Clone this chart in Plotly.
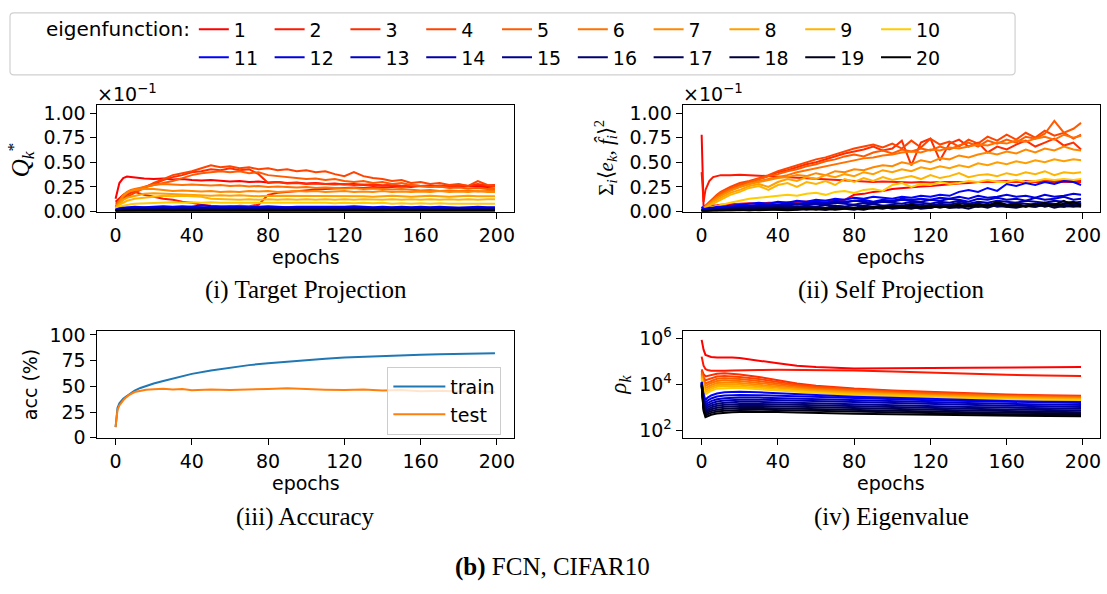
import plotly.graph_objects as go

W, H = 1107, 594

# ---------------------------------------------------------------- data
# epochs at which the projection curves were logged
EPOCHS = [0, 1, 2, 4, 6, 8, 10, 15, 20, 25, 30, 35, 40, 45, 50, 55, 60, 65, 70, 75,
          80, 85, 90, 95, 100, 105, 110, 115, 120, 125, 130, 135, 140, 145, 150, 155,
          160, 165, 170, 175, 180, 185, 190, 195, 199]
# epochs at which the eigenvalues were logged
EIG_EPOCHS = [0, 1, 2, 3, 5, 8, 12, 16, 20, 30, 40, 50, 60, 80, 100, 120, 140, 160, 180, 199]
# epochs at which accuracy was logged
ACC_EPOCHS = [0, 1, 2, 3, 4, 5, 7, 10, 13, 16, 20, 25, 30, 35, 40, 50, 60, 70, 80, 90,
              100, 110, 120, 130, 140, 150, 160, 170, 180, 190, 199]

EIGEN_LABELS = [str(k) for k in range(1, 21)]

# (i) target projection Q*_k, in units of 1e-1
target_1 = [0.13, 0.22, 0.29, 0.34, 0.355, 0.35,
            0.345, 0.335, 0.33, 0.335, 0.325, 0.33, 0.32, 0.315, 0.32, 0.31,
            0.305, 0.31, 0.30, 0.305, 0.295, 0.30, 0.29, 0.295, 0.285, 0.29,
            0.28, 0.285, 0.275, 0.28, 0.27, 0.275, 0.265, 0.27, 0.26, 0.265,
            0.26, 0.265, 0.255, 0.26, 0.25, 0.26, 0.255, 0.25, 0.255]
target_2 = [0.10, 0.12, 0.14, 0.17, 0.19, 0.20,
            0.20, 0.17, 0.15, 0.13, 0.12, 0.10, 0.09, 0.07, 0.06, 0.055,
            0.05, 0.06, 0.055, 0.07, 0.17, 0.19, 0.20, 0.21, 0.22, 0.225,
            0.23, 0.235, 0.24, 0.245, 0.24, 0.25, 0.245, 0.25, 0.255, 0.25,
            0.26, 0.255, 0.26, 0.25, 0.265, 0.26, 0.27, 0.26, 0.265]
target_3 = [0.08, 0.09, 0.11, 0.14, 0.17, 0.19,
            0.21, 0.25, 0.28, 0.32, 0.35, 0.37, 0.40, 0.41, 0.43, 0.42,
            0.44, 0.42, 0.43, 0.38, 0.29, 0.30, 0.285, 0.29, 0.28, 0.285,
            0.28, 0.275, 0.28, 0.27, 0.275, 0.27, 0.265, 0.27, 0.26, 0.265,
            0.26, 0.255, 0.265, 0.26, 0.27, 0.26, 0.28, 0.265, 0.27]
target_4 = [0.06, 0.07, 0.09, 0.12, 0.15, 0.17,
            0.19, 0.24, 0.29, 0.33, 0.37, 0.39, 0.41, 0.44, 0.47, 0.45,
            0.46, 0.44, 0.45, 0.43, 0.44, 0.42, 0.43, 0.41, 0.42, 0.40,
            0.41, 0.38, 0.36, 0.40, 0.36, 0.34, 0.33, 0.31, 0.32, 0.29,
            0.30, 0.28, 0.29, 0.27, 0.28, 0.26, 0.31, 0.27, 0.26]
target_5 = [0.05, 0.07, 0.10, 0.15, 0.19, 0.21,
            0.22, 0.25, 0.27, 0.29, 0.31, 0.34, 0.37, 0.39, 0.40, 0.41,
            0.40, 0.41, 0.39, 0.40, 0.37, 0.36, 0.35, 0.34, 0.33, 0.335,
            0.32, 0.33, 0.31, 0.30, 0.31, 0.29, 0.30, 0.28, 0.29, 0.27,
            0.26, 0.25, 0.255, 0.24, 0.245, 0.235, 0.24, 0.23, 0.23]
target_6 = [0.05, 0.08, 0.12, 0.17, 0.20, 0.22,
            0.23, 0.25, 0.27, 0.28, 0.275, 0.27, 0.275, 0.27, 0.265, 0.27,
            0.26, 0.265, 0.255, 0.26, 0.25, 0.255, 0.25, 0.245, 0.25, 0.24,
            0.245, 0.24, 0.235, 0.24, 0.23, 0.235, 0.23, 0.225, 0.23, 0.225,
            0.215, 0.22, 0.21, 0.215, 0.21, 0.215, 0.205, 0.21, 0.21]
target_7 = [0.04, 0.07, 0.11, 0.16, 0.19, 0.21,
            0.22, 0.23, 0.23, 0.22, 0.21, 0.215, 0.21, 0.205, 0.21, 0.20,
            0.205, 0.20, 0.21, 0.205, 0.21, 0.20, 0.205, 0.21, 0.205, 0.21,
            0.20, 0.205, 0.21, 0.20, 0.205, 0.20, 0.21, 0.20, 0.205, 0.20,
            0.205, 0.20, 0.21, 0.20, 0.205, 0.20, 0.21, 0.20, 0.20]
target_8 = [0.04, 0.06, 0.09, 0.12, 0.14, 0.15,
            0.16, 0.18, 0.185, 0.18, 0.175, 0.17, 0.17, 0.165, 0.16, 0.165,
            0.16, 0.165, 0.16, 0.155, 0.16, 0.16, 0.155, 0.16, 0.155, 0.16,
            0.155, 0.16, 0.155, 0.16, 0.155, 0.15, 0.155, 0.16, 0.155, 0.15,
            0.155, 0.16, 0.155, 0.15, 0.155, 0.16, 0.155, 0.155, 0.155]
target_9 = [0.03, 0.05, 0.07, 0.09, 0.11, 0.12,
            0.13, 0.14, 0.15, 0.16, 0.155, 0.16, 0.155, 0.15, 0.13, 0.125,
            0.125, 0.12, 0.125, 0.12, 0.125, 0.12, 0.125, 0.12, 0.125, 0.12,
            0.125, 0.12, 0.125, 0.12, 0.125, 0.12, 0.12, 0.125, 0.12, 0.125,
            0.12, 0.125, 0.12, 0.125, 0.12, 0.125, 0.12, 0.125, 0.125]
target_10 = [0.03, 0.04, 0.05, 0.06, 0.07, 0.075,
             0.08, 0.085, 0.09, 0.09, 0.095, 0.09, 0.095, 0.09, 0.095, 0.09,
             0.09, 0.095, 0.09, 0.095, 0.09, 0.095, 0.09, 0.09, 0.095, 0.09,
             0.09, 0.085, 0.09, 0.085, 0.09, 0.085, 0.09, 0.08, 0.085, 0.08,
             0.085, 0.08, 0.085, 0.08, 0.08, 0.085, 0.08, 0.08, 0.08]
target_11 = [0.02, 0.03, 0.035, 0.04, 0.045, 0.045,
             0.05, 0.045, 0.05, 0.055, 0.05, 0.055, 0.05, 0.065, 0.055, 0.05,
             0.055, 0.05, 0.045, 0.05, 0.055, 0.05, 0.045, 0.05, 0.05, 0.045,
             0.05, 0.045, 0.05, 0.055, 0.05, 0.045, 0.05, 0.045, 0.05, 0.045,
             0.05, 0.045, 0.05, 0.045, 0.04, 0.045, 0.05, 0.045, 0.045]
target_12 = [0.02, 0.025, 0.03, 0.035, 0.04, 0.04,
             0.04, 0.045, 0.04, 0.045, 0.04, 0.045, 0.05, 0.045, 0.04, 0.045,
             0.04, 0.045, 0.04, 0.045, 0.04, 0.04, 0.045, 0.04, 0.045, 0.04,
             0.04, 0.045, 0.04, 0.04, 0.045, 0.04, 0.035, 0.04, 0.045, 0.04,
             0.04, 0.035, 0.04, 0.04, 0.035, 0.04, 0.04, 0.035, 0.04]
target_13 = [0.015, 0.02, 0.025, 0.03, 0.03, 0.035,
             0.035, 0.04, 0.035, 0.04, 0.035, 0.04, 0.035, 0.04, 0.04, 0.035,
             0.04, 0.035, 0.04, 0.035, 0.04, 0.035, 0.035, 0.04, 0.035, 0.035,
             0.035, 0.04, 0.035, 0.035, 0.03, 0.035, 0.04, 0.035, 0.03, 0.035,
             0.035, 0.03, 0.035, 0.035, 0.03, 0.035, 0.03, 0.035, 0.035]
target_14 = [0.015, 0.02, 0.02, 0.025, 0.03, 0.03,
             0.03, 0.035, 0.03, 0.035, 0.03, 0.035, 0.03, 0.035, 0.03, 0.03,
             0.035, 0.03, 0.035, 0.03, 0.03, 0.035, 0.03, 0.03, 0.035, 0.03,
             0.03, 0.035, 0.03, 0.03, 0.035, 0.03, 0.03, 0.025, 0.03, 0.03,
             0.03, 0.03, 0.025, 0.03, 0.03, 0.025, 0.03, 0.03, 0.03]
target_15 = [0.01, 0.015, 0.02, 0.02, 0.025, 0.025,
             0.025, 0.03, 0.025, 0.03, 0.025, 0.03, 0.025, 0.03, 0.025, 0.025,
             0.03, 0.025, 0.025, 0.03, 0.025, 0.025, 0.03, 0.025, 0.025, 0.03,
             0.025, 0.025, 0.03, 0.025, 0.025, 0.03, 0.025, 0.025, 0.02, 0.025,
             0.025, 0.025, 0.02, 0.025, 0.025, 0.02, 0.025, 0.025, 0.025]
target_16 = [0.01, 0.01, 0.015, 0.02, 0.02, 0.02,
             0.02, 0.025, 0.02, 0.025, 0.02, 0.025, 0.02, 0.02, 0.025, 0.02,
             0.02, 0.025, 0.02, 0.02, 0.025, 0.02, 0.02, 0.025, 0.02, 0.02,
             0.025, 0.02, 0.02, 0.025, 0.02, 0.02, 0.02, 0.025, 0.02, 0.02,
             0.02, 0.02, 0.025, 0.02, 0.02, 0.02, 0.02, 0.02, 0.02]
target_17 = [0.01, 0.01, 0.01, 0.015, 0.015, 0.015,
             0.015, 0.02, 0.015, 0.02, 0.015, 0.02, 0.015, 0.015, 0.02, 0.015,
             0.015, 0.02, 0.015, 0.015, 0.02, 0.015, 0.015, 0.02, 0.015, 0.015,
             0.02, 0.015, 0.015, 0.02, 0.015, 0.015, 0.015, 0.02, 0.015, 0.015,
             0.015, 0.015, 0.02, 0.015, 0.015, 0.015, 0.015, 0.015, 0.015]
target_18 = [0.005, 0.01, 0.01, 0.01, 0.01, 0.012,
             0.012, 0.015, 0.012, 0.015, 0.012, 0.012, 0.015, 0.012, 0.012, 0.015,
             0.012, 0.012, 0.015, 0.012, 0.012, 0.015, 0.012, 0.012, 0.012, 0.015,
             0.012, 0.012, 0.015, 0.012, 0.012, 0.012, 0.015, 0.012, 0.012, 0.012,
             0.012, 0.015, 0.012, 0.012, 0.012, 0.012, 0.012, 0.012, 0.012]
target_19 = [0.005, 0.005, 0.008, 0.008, 0.01, 0.01,
             0.01, 0.01, 0.012, 0.01, 0.01, 0.012, 0.01, 0.01, 0.012, 0.01,
             0.01, 0.01, 0.012, 0.01, 0.01, 0.01, 0.012, 0.01, 0.01, 0.01,
             0.012, 0.01, 0.01, 0.01, 0.012, 0.01, 0.01, 0.01, 0.01, 0.012,
             0.01, 0.01, 0.01, 0.01, 0.01, 0.01, 0.01, 0.01, 0.01]
target_20 = [0.005, 0.005, 0.005, 0.006, 0.006, 0.007,
             0.007, 0.008, 0.007, 0.008, 0.008, 0.007, 0.008, 0.008, 0.007, 0.008,
             0.008, 0.007, 0.008, 0.008, 0.007, 0.008, 0.008, 0.007, 0.008, 0.008,
             0.007, 0.008, 0.008, 0.007, 0.008, 0.008, 0.007, 0.008, 0.008, 0.007,
             0.008, 0.008, 0.007, 0.008, 0.008, 0.007, 0.008, 0.008, 0.008]

# (ii) self projection sum_i <e_k, f_i>^2, in units of 1e-1
self_1 = [0.78, 0.05, 0.06, 0.06, 0.06, 0.065,
          0.07, 0.075, 0.08, 0.085, 0.08, 0.09, 0.09, 0.095, 0.10, 0.10,
          0.105, 0.11, 0.11, 0.12, 0.17, 0.18, 0.20, 0.21, 0.23, 0.24,
          0.25, 0.255, 0.26, 0.27, 0.28, 0.285, 0.29, 0.30, 0.30, 0.305,
          0.31, 0.30, 0.31, 0.305, 0.31, 0.32, 0.31, 0.315, 0.32]
self_2 = [0.40, 0.10, 0.22, 0.31, 0.35, 0.36,
          0.37, 0.37, 0.375, 0.37, 0.365, 0.36, 0.35, 0.345, 0.34, 0.335,
          0.33, 0.325, 0.32, 0.315, 0.31, 0.31, 0.30, 0.305, 0.30, 0.30,
          0.295, 0.30, 0.295, 0.30, 0.30, 0.295, 0.30, 0.30, 0.295, 0.30,
          0.30, 0.295, 0.30, 0.30, 0.295, 0.30, 0.295, 0.30, 0.30]
self_3 = [0.03, 0.03, 0.05, 0.08, 0.12, 0.15,
          0.18, 0.23, 0.27, 0.30, 0.33, 0.36, 0.40, 0.42, 0.45, 0.48,
          0.50, 0.53, 0.56, 0.59, 0.61, 0.63, 0.66, 0.62, 0.64, 0.72,
          0.47, 0.70, 0.74, 0.52, 0.69, 0.73, 0.66, 0.70, 0.60, 0.66,
          0.63, 0.68, 0.72, 0.66, 0.70, 0.74, 0.67, 0.70, 0.63]
self_4 = [0.03, 0.04, 0.06, 0.10, 0.14, 0.17,
          0.20, 0.25, 0.29, 0.31, 0.34, 0.37, 0.41, 0.44, 0.47, 0.50,
          0.53, 0.55, 0.58, 0.61, 0.64, 0.66, 0.68, 0.65, 0.69, 0.64,
          0.72, 0.65, 0.74, 0.68, 0.71, 0.66, 0.73, 0.69, 0.76, 0.72,
          0.78, 0.73, 0.80, 0.75, 0.82, 0.77, 0.80, 0.74, 0.78]
self_5 = [0.02, 0.03, 0.05, 0.09, 0.13, 0.16,
          0.19, 0.23, 0.27, 0.30, 0.33, 0.36, 0.38, 0.41, 0.43, 0.46,
          0.48, 0.51, 0.53, 0.56, 0.58, 0.56, 0.60, 0.62, 0.59, 0.63,
          0.61, 0.64, 0.62, 0.66, 0.63, 0.67, 0.70, 0.66, 0.72, 0.69,
          0.73, 0.70, 0.76, 0.74, 0.79, 0.92, 0.80, 0.84, 0.90]
self_6 = [0.02, 0.03, 0.05, 0.08, 0.11, 0.14,
          0.17, 0.22, 0.25, 0.28, 0.31, 0.33, 0.35, 0.37, 0.40, 0.42,
          0.44, 0.46, 0.48, 0.50, 0.52, 0.54, 0.55, 0.57, 0.58, 0.60,
          0.61, 0.60, 0.63, 0.62, 0.65, 0.64, 0.66, 0.68, 0.67, 0.70,
          0.69, 0.72, 0.71, 0.74, 0.76, 0.73, 0.78, 0.75, 0.77]
self_7 = [0.02, 0.03, 0.05, 0.08, 0.11, 0.14,
          0.16, 0.21, 0.25, 0.28, 0.30, 0.32, 0.34, 0.35, 0.37, 0.36,
          0.39, 0.37, 0.41, 0.40, 0.43, 0.42, 0.45, 0.47, 0.46, 0.50,
          0.48, 0.52, 0.50, 0.54, 0.53, 0.57, 0.55, 0.58, 0.60, 0.58,
          0.61, 0.59, 0.63, 0.60, 0.64, 0.62, 0.66, 0.63, 0.62]
self_8 = [0.02, 0.03, 0.04, 0.07, 0.10, 0.12,
          0.14, 0.19, 0.22, 0.26, 0.28, 0.25, 0.30, 0.33, 0.31, 0.35,
          0.33, 0.37, 0.35, 0.38, 0.36, 0.40, 0.38, 0.42, 0.40, 0.43,
          0.41, 0.45, 0.43, 0.46, 0.44, 0.47, 0.45, 0.49, 0.47, 0.50,
          0.48, 0.51, 0.49, 0.52, 0.50, 0.53, 0.51, 0.53, 0.52]
self_9 = [0.02, 0.02, 0.04, 0.06, 0.08, 0.10,
          0.12, 0.17, 0.20, 0.24, 0.26, 0.22, 0.27, 0.29, 0.25, 0.30,
          0.28, 0.31, 0.27, 0.33, 0.30, 0.34, 0.31, 0.35, 0.32, 0.34,
          0.36, 0.33, 0.37, 0.34, 0.36, 0.39, 0.35, 0.37, 0.38, 0.36,
          0.39, 0.37, 0.40, 0.38, 0.41, 0.37, 0.40, 0.39, 0.40]
self_10 = [0.02, 0.02, 0.03, 0.04, 0.05, 0.06,
           0.07, 0.09, 0.11, 0.13, 0.14, 0.15, 0.16, 0.17, 0.16, 0.18,
           0.19, 0.17, 0.20, 0.21, 0.19, 0.22, 0.23, 0.21, 0.27, 0.29,
           0.25, 0.28, 0.27, 0.30, 0.28, 0.29, 0.31, 0.30, 0.32, 0.30,
           0.30, 0.32, 0.30, 0.31, 0.33, 0.32, 0.33, 0.32, 0.33]
self_11 = [0.05, 0.03, 0.03, 0.04, 0.04, 0.05,
           0.05, 0.06, 0.07, 0.08, 0.09, 0.08, 0.10, 0.09, 0.11, 0.10,
           0.12, 0.11, 0.13, 0.12, 0.14, 0.13, 0.15, 0.14, 0.13, 0.15,
           0.14, 0.16, 0.15, 0.17, 0.16, 0.20, 0.22, 0.20, 0.24, 0.21,
           0.28, 0.26, 0.29, 0.27, 0.30, 0.28, 0.31, 0.30, 0.27]
self_12 = [0.03, 0.02, 0.02, 0.03, 0.03, 0.04,
           0.04, 0.05, 0.06, 0.06, 0.07, 0.08, 0.07, 0.09, 0.08, 0.09,
           0.10, 0.09, 0.11, 0.10, 0.11, 0.12, 0.10, 0.12, 0.11, 0.13,
           0.12, 0.13, 0.12, 0.14, 0.13, 0.15, 0.13, 0.16, 0.14, 0.15,
           0.17, 0.15, 0.16, 0.14, 0.17, 0.15, 0.16, 0.18, 0.17]
self_13 = [0.02, 0.02, 0.02, 0.02, 0.03, 0.03,
           0.03, 0.04, 0.05, 0.05, 0.06, 0.07, 0.06, 0.08, 0.07, 0.08,
           0.09, 0.08, 0.10, 0.09, 0.11, 0.10, 0.09, 0.11, 0.10, 0.12,
           0.11, 0.10, 0.12, 0.11, 0.13, 0.12, 0.10, 0.13, 0.12, 0.14,
           0.12, 0.13, 0.11, 0.14, 0.12, 0.13, 0.15, 0.12, 0.13]
self_14 = [0.02, 0.01, 0.01, 0.02, 0.02, 0.03,
           0.03, 0.04, 0.04, 0.05, 0.06, 0.05, 0.07, 0.06, 0.08, 0.07,
           0.08, 0.07, 0.09, 0.08, 0.07, 0.09, 0.08, 0.10, 0.09, 0.08,
           0.10, 0.09, 0.08, 0.10, 0.09, 0.11, 0.08, 0.10, 0.09, 0.11,
           0.10, 0.09, 0.11, 0.10, 0.09, 0.11, 0.10, 0.09, 0.10]
self_15 = [0.01, 0.01, 0.01, 0.02, 0.02, 0.02,
           0.03, 0.03, 0.04, 0.04, 0.05, 0.04, 0.05, 0.06, 0.05, 0.06,
           0.05, 0.07, 0.06, 0.05, 0.07, 0.06, 0.08, 0.06, 0.07, 0.06,
           0.08, 0.07, 0.06, 0.08, 0.07, 0.09, 0.07, 0.08, 0.06, 0.08,
           0.07, 0.09, 0.08, 0.07, 0.09, 0.08, 0.07, 0.09, 0.08]
self_16 = [0.01, 0.01, 0.01, 0.01, 0.02, 0.02,
           0.02, 0.03, 0.03, 0.04, 0.03, 0.04, 0.05, 0.04, 0.05, 0.04,
           0.05, 0.04, 0.06, 0.05, 0.04, 0.06, 0.05, 0.06, 0.05, 0.04,
           0.06, 0.05, 0.07, 0.05, 0.06, 0.05, 0.07, 0.06, 0.08, 0.05,
           0.06, 0.07, 0.05, 0.08, 0.06, 0.07, 0.05, 0.06, 0.07]
self_17 = [0.01, 0.01, 0.01, 0.01, 0.01, 0.01,
           0.02, 0.02, 0.03, 0.02, 0.03, 0.03, 0.04, 0.03, 0.04, 0.03,
           0.04, 0.03, 0.05, 0.04, 0.03, 0.05, 0.04, 0.05, 0.04, 0.06,
           0.04, 0.05, 0.04, 0.06, 0.05, 0.04, 0.06, 0.05, 0.07, 0.06,
           0.05, 0.07, 0.06, 0.05, 0.07, 0.06, 0.05, 0.08, 0.06]
self_18 = [0.01, 0.01, 0.00, 0.01, 0.01, 0.01,
           0.01, 0.02, 0.02, 0.01, 0.02, 0.03, 0.02, 0.03, 0.02, 0.03,
           0.03, 0.02, 0.04, 0.03, 0.02, 0.04, 0.03, 0.05, 0.03, 0.04,
           0.05, 0.03, 0.04, 0.06, 0.04, 0.05, 0.03, 0.06, 0.04, 0.07,
           0.05, 0.04, 0.06, 0.05, 0.07, 0.04, 0.06, 0.05, 0.06]
self_19 = [0.01, 0.00, 0.00, 0.01, 0.01, 0.01,
           0.01, 0.01, 0.02, 0.01, 0.02, 0.02, 0.03, 0.02, 0.03, 0.02,
           0.03, 0.02, 0.03, 0.04, 0.03, 0.02, 0.04, 0.03, 0.05, 0.04,
           0.03, 0.05, 0.04, 0.06, 0.04, 0.05, 0.07, 0.05, 0.06, 0.10,
           0.07, 0.05, 0.06, 0.08, 0.05, 0.07, 0.11, 0.06, 0.05]
self_20 = [0.00, 0.00, 0.00, 0.00, 0.01, 0.01,
           0.01, 0.01, 0.01, 0.02, 0.01, 0.02, 0.02, 0.01, 0.02, 0.03,
           0.02, 0.03, 0.02, 0.03, 0.04, 0.03, 0.05, 0.04, 0.06, 0.05,
           0.07, 0.05, 0.06, 0.04, 0.06, 0.07, 0.05, 0.08, 0.06, 0.09,
           0.06, 0.08, 0.05, 0.07, 0.09, 0.06, 0.08, 0.10, 0.07]

# (iii) accuracy in percent
train_acc = [10.5, 29, 33.5, 36, 38, 39.5, 42, 46, 48.5, 50.5, 52.8, 55.3, 57.8, 60, 62.2,
             65.5, 68.3, 70.7, 72.6, 74.3, 75.8, 77.0, 78.0, 78.8, 79.5, 80.1, 80.7,
             81.2, 81.6, 82.0, 82.3]
test_acc = [10.5, 27, 31.5, 34.5, 36.5, 38.5, 41.5, 44.5, 46, 46.8, 47.3, 47.8, 46.9, 47.4,
            46.2, 46.9, 46.5, 47.4, 47.6, 48.1, 47.2, 46.8, 46.5, 46.9, 46.1, 46.4, 45.3,
            45.8, 45.1, 45.4, 44.6]

# (iv) eigenvalues rho_k
eig_1 = [8.5e5, 3.2e5, 1.9e5, 1.8e5, 1.55e5, 1.45e5, 1.5e5, 1.45e5, 1.38e5, 1.1e5,
         8.2e4, 6.4e4, 5.6e4, 4.9e4, 4.9e4, 5.1e4, 5.3e4, 5.4e4, 5.5e4, 5.6e4]
eig_2 = [1.6e5, 6.5e4, 4.6e4, 4.2e4, 3.9e4, 3.8e4, 3.9e4, 4.0e4, 4.1e4, 4.2e4,
         4.3e4, 4.3e4, 4.2e4, 4.0e4, 3.6e4, 3.2e4, 2.8e4, 2.6e4, 2.4e4, 2.3e4]
eig_3 = [4.5e4, 2.8e4, 2.2e4, 2.3e4, 2.6e4, 2.9e4, 3.0e4, 2.9e4, 2.7e4, 2.1e4,
         1.5e4, 1.1e4, 8.8e3, 6.6e3, 5.4e3, 4.6e3, 4.0e3, 3.6e3, 3.35e3, 3.2e3]
eig_4 = [3.8e4, 2.0e4, 1.5e4, 1.6e4, 1.9e4, 2.2e4, 2.3e4, 2.25e4, 2.1e4, 1.7e4,
         1.25e4, 9.5e3, 7.8e3, 6.0e3, 5.0e3, 4.3e3, 3.75e3, 3.4e3, 3.15e3, 3.0e3]
eig_5 = [3.3e4, 1.6e4, 1.1e4, 1.2e4, 1.45e4, 1.75e4, 1.85e4, 1.8e4, 1.7e4, 1.4e4,
         1.05e4, 8.4e3, 7.0e3, 5.5e3, 4.6e3, 4.0e3, 3.5e3, 3.15e3, 2.95e3, 2.8e3]
eig_6 = [2.9e4, 1.3e4, 8.5e3, 9.5e3, 1.15e4, 1.4e4, 1.5e4, 1.45e4, 1.4e4, 1.15e4,
         9.0e3, 7.4e3, 6.3e3, 5.0e3, 4.2e3, 3.65e3, 3.25e3, 2.95e3, 2.75e3, 2.6e3]
eig_7 = [2.5e4, 1.05e4, 6.8e3, 7.6e3, 9.3e3, 1.15e4, 1.22e4, 1.2e4, 1.15e4, 9.8e3,
         7.9e3, 6.6e3, 5.7e3, 4.6e3, 3.9e3, 3.4e3, 3.05e3, 2.8e3, 2.6e3, 2.45e3]
eig_8 = [2.2e4, 8.5e3, 5.5e3, 6.2e3, 7.7e3, 9.4e3, 1.0e4, 9.9e3, 9.6e3, 8.3e3,
         6.9e3, 5.9e3, 5.1e3, 4.2e3, 3.6e3, 3.15e3, 2.85e3, 2.6e3, 2.42e3, 2.3e3]
eig_9 = [1.9e4, 7.0e3, 4.5e3, 5.1e3, 6.4e3, 7.8e3, 8.4e3, 8.3e3, 8.1e3, 7.1e3,
         6.0e3, 5.2e3, 4.6e3, 3.8e3, 3.3e3, 2.9e3, 2.65e3, 2.42e3, 2.27e3, 2.15e3]
eig_10 = [1.6e4, 5.8e3, 3.7e3, 4.2e3, 5.3e3, 6.5e3, 7.0e3, 7.0e3, 6.9e3, 6.1e3,
          5.3e3, 4.6e3, 4.1e3, 3.4e3, 3.0e3, 2.65e3, 2.45e3, 2.25e3, 2.1e3, 2.0e3]
eig_11 = [1.3e4, 3.8e3, 2.1e3, 2.6e3, 3.3e3, 4.0e3, 4.5e3, 4.7e3, 4.75e3, 4.5e3,
          4.1e3, 3.7e3, 3.3e3, 2.9e3, 2.6e3, 2.3e3, 2.05e3, 1.9e3, 1.78e3, 1.7e3]
eig_12 = [1.25e4, 2.9e3, 1.6e3, 1.95e3, 2.45e3, 2.95e3, 3.25e3, 3.4e3, 3.45e3, 3.38e3,
          3.18e3, 2.98e3, 2.8e3, 2.5e3, 2.25e3, 2.05e3, 1.89e3, 1.76e3, 1.65e3, 1.55e3]
eig_13 = [1.2e4, 2.3e3, 1.25e3, 1.52e3, 1.88e3, 2.25e3, 2.5e3, 2.62e3, 2.68e3, 2.66e3,
          2.52e3, 2.37e3, 2.24e3, 2.0e3, 1.81e3, 1.66e3, 1.54e3, 1.44e3, 1.35e3, 1.27e3]
eig_14 = [1.15e4, 1.85e3, 1.0e3, 1.22e3, 1.5e3, 1.8e3, 2.0e3, 2.1e3, 2.15e3, 2.15e3,
          2.05e3, 1.93e3, 1.83e3, 1.64e3, 1.49e3, 1.37e3, 1.27e3, 1.19e3, 1.12e3, 1.05e3]
eig_15 = [1.1e4, 1.55e3, 830, 1.0e3, 1.22e3, 1.45e3, 1.6e3, 1.7e3, 1.75e3, 1.75e3,
          1.66e3, 1.57e3, 1.49e3, 1.34e3, 1.22e3, 1.12e3, 1.05e3, 980, 920, 870]
eig_16 = [1.05e4, 1.3e3, 700, 830, 1.0e3, 1.18e3, 1.3e3, 1.38e3, 1.42e3, 1.42e3,
          1.35e3, 1.28e3, 1.22e3, 1.1e3, 1.0e3, 930, 870, 820, 770, 730]
eig_17 = [1.0e4, 1.1e3, 600, 700, 830, 970, 1.07e3, 1.13e3, 1.16e3, 1.16e3,
          1.11e3, 1.05e3, 1.0e3, 910, 840, 780, 730, 690, 650, 620]
eig_18 = [9.5e3, 950, 510, 590, 690, 800, 880, 930, 950, 960,
          920, 870, 830, 760, 700, 650, 620, 590, 560, 540]
eig_19 = [9.0e3, 820, 440, 500, 580, 660, 720, 760, 780, 790,
          760, 720, 690, 630, 590, 560, 530, 510, 490, 470]
eig_20 = [8.5e3, 700, 380, 420, 480, 540, 590, 620, 640, 650,
          630, 600, 570, 530, 500, 475, 455, 440, 425, 410]

# ---------------------------------------------------------------- styling
EIGEN_COLORS = ['#ff0000', '#ff1700', '#ff2d00', '#ff4400', '#ff5b00',
                '#ff7100', '#ff8800', '#ff9f00', '#ffb500', '#ffcc00',
                '#0000ff', '#0000e3', '#0000c6', '#0000aa', '#00008e',
                '#000071', '#000055', '#000039', '#00001c', '#000000']
TRAIN_COLOR = '#1f77b4'
TEST_COLOR = '#ff7f0e'
SANS = 'DejaVu Sans'
SERIF = 'Liberation Serif'
FS = 19

target_series = [target_1, target_2, target_3, target_4, target_5, target_6, target_7,
                 target_8, target_9, target_10, target_11, target_12, target_13, target_14,
                 target_15, target_16, target_17, target_18, target_19, target_20]
self_series = [self_1, self_2, self_3, self_4, self_5, self_6, self_7, self_8, self_9,
               self_10, self_11, self_12, self_13, self_14, self_15, self_16, self_17,
               self_18, self_19, self_20]
eig_series = [eig_1, eig_2, eig_3, eig_4, eig_5, eig_6, eig_7, eig_8, eig_9, eig_10,
              eig_11, eig_12, eig_13, eig_14, eig_15, eig_16, eig_17, eig_18, eig_19, eig_20]

for s in target_series + self_series:
    assert len(s) == len(EPOCHS), len(s)
for s in eig_series:
    assert len(s) == len(EIG_EPOCHS), len(s)
assert len(train_acc) == len(ACC_EPOCHS) == len(test_acc)


def px(x):
    return x / W


def py(y):
    return 1 - y / H


fig = go.Figure()

for k in range(20):
    name = EIGEN_LABELS[k]
    color = EIGEN_COLORS[k]
    group = 'ef' + name
    leg = 'legend' if k < 10 else 'legend2'
    fig.add_trace(go.Scatter(x=EPOCHS, y=target_series[k], mode='lines', name=name,
                             line=dict(color=color, width=2), legendgroup=group,
                             legend=leg, showlegend=True, xaxis='x', yaxis='y'))
    fig.add_trace(go.Scatter(x=EPOCHS, y=self_series[k], mode='lines', name=name,
                             line=dict(color=color, width=2), legendgroup=group,
                             legend=leg, showlegend=False, xaxis='x2', yaxis='y2'))
    fig.add_trace(go.Scatter(x=EIG_EPOCHS, y=eig_series[k], mode='lines', name=name,
                             line=dict(color=color, width=2), legendgroup=group,
                             legend=leg, showlegend=False, xaxis='x4', yaxis='y4'))

fig.add_trace(go.Scatter(x=ACC_EPOCHS, y=train_acc, mode='lines', name='train',
                         line=dict(color=TRAIN_COLOR, width=2), legend='legend3',
                         xaxis='x3', yaxis='y3'))
fig.add_trace(go.Scatter(x=ACC_EPOCHS, y=test_acc, mode='lines', name='test',
                         line=dict(color=TEST_COLOR, width=2), legend='legend3',
                         xaxis='x3', yaxis='y3'))

# ---------------------------------------------------------------- axes
LEFT_X = [px(96.7), px(514.4)]
RIGHT_X = [px(683.3), px(1101)]
TOP_Y = [py(211), py(100.7)]
BOT_Y = [py(444.3), py(334)]

axis_common = dict(showline=True, mirror=True, linecolor='black', linewidth=1.2,
                   ticks='outside', ticklen=6, tickwidth=1.2, tickcolor='black',
                   showgrid=False, zeroline=False,
                   tickfont=dict(family=SANS, size=FS, color='black'))
x_common = dict(axis_common, range=[-9.95, 208.95], tickvals=[0, 40, 80, 120, 160, 200])
proj_y = dict(axis_common, range=[0, 1.085], tickvals=[0, 0.25, 0.5, 0.75, 1.0],
              ticktext=['0.00', '0.25', '0.50', '0.75', '1.00'])

fig.update_layout(
    xaxis=dict(x_common, domain=LEFT_X, anchor='y'),
    yaxis=dict(proj_y, domain=TOP_Y, anchor='x'),
    xaxis2=dict(x_common, domain=RIGHT_X, anchor='y2'),
    yaxis2=dict(proj_y, domain=TOP_Y, anchor='x2'),
    xaxis3=dict(x_common, domain=LEFT_X, anchor='y3'),
    yaxis3=dict(axis_common, domain=BOT_Y, anchor='x3', range=[0, 104],
                tickvals=[0, 25, 50, 75, 100]),
    xaxis4=dict(x_common, domain=RIGHT_X, anchor='y4'),
    yaxis4=dict(axis_common, domain=BOT_Y, anchor='x4', type='log', range=[1.68, 6.32],
                tickvals=[1e2, 1e4, 1e6],
                ticktext=['10<sup>2</sup>', '10<sup>4</sup>', '10<sup>6</sup>']),
)

# ---------------------------------------------------------------- legends
eig_legend = dict(orientation='h', xref='paper', yref='paper', xanchor='left',
                  yanchor='middle', x=px(194), entrywidth=30.8, entrywidthmode='pixels',
                  itemwidth=30, bgcolor='rgba(0,0,0,0)', borderwidth=0,
                  font=dict(family=SANS, size=FS, color='black'))
fig.update_layout(
    legend=dict(eig_legend, y=py(23)),
    legend2=dict(eig_legend, y=py(52)),
    legend3=dict(orientation='v', xref='paper', yref='paper', xanchor='left',
                 yanchor='top', x=px(387.7), y=py(371), itemwidth=52,
                 bgcolor='rgba(255,255,255,0.8)', bordercolor='#cccccc', borderwidth=1,
                 font=dict(family=SANS, size=FS, color='black')),
)

# rounded frame around the eigenfunction legend
x0, x1, y0, y1, r = 10, 1016, 6, 70, 4
frame = (f"M {px(x0 + r)},{py(y0)} L {px(x1 - r)},{py(y0)} "
         f"Q {px(x1)},{py(y0)} {px(x1)},{py(y0 + r)} L {px(x1)},{py(y1 - r)} "
         f"Q {px(x1)},{py(y1)} {px(x1 - r)},{py(y1)} L {px(x0 + r)},{py(y1)} "
         f"Q {px(x0)},{py(y1)} {px(x0)},{py(y1 - r)} L {px(x0)},{py(y0 + r)} "
         f"Q {px(x0)},{py(y0)} {px(x0 + r)},{py(y0)} Z")
fig.add_shape(type='path', path=frame, xref='paper', yref='paper',
              line=dict(color='#d0d0d0', width=1.2), fillcolor='rgba(255,255,255,0.8)',
              layer='below')

# ---------------------------------------------------------------- text
ann = []


def text(x, y, s, size=FS, family=SANS, xanchor='center', angle=0):
    ann.append(dict(x=px(x), y=py(y), xref='paper', yref='paper', text=s,
                    showarrow=False, xanchor=xanchor, yanchor='middle', textangle=angle,
                    font=dict(family=family, size=size, color='black')))


text(192, 23, 'eigenfunction:', size=20, xanchor='right')
text(95, 89, '×10<sup>−1</sup>', xanchor='left')
text(682, 89, '×10<sup>−1</sup>', xanchor='left')

text(21, 157, '<i>Q</i><sub><i>k</i></sub><sup>*</sup>', size=25, family=SERIF, angle=-90)
text(606, 155, 'Σ<sub><i>i</i></sub>⟨<i>e</i><sub><i>k</i></sub>, <i>f̂</i>'
               '<sub><i>i</i></sub>⟩<sup>2</sup>', size=21, family=SERIF, angle=-90)
text(30, 389, 'acc (%)', angle=-90)
text(621, 389, '<i>ρ</i><sub><i>k</i></sub>', size=23, family=SERIF, angle=-90)

for cx in (306, 892):
    text(cx, 258, 'epochs')
    text(cx, 491, 'epochs')

text(306, 292, '(i) Target Projection', size=25, family=SERIF)
text(892, 292, '(ii) Self Projection', size=25, family=SERIF)
text(306, 526, '(iii) Accuracy', size=25, family=SERIF)
text(892, 526, '(iv) Eigenvalue', size=25, family=SERIF)
text(553, 578, '<b>(b)</b> FCN, CIFAR10', size=25, family=SERIF)

fig.update_layout(
    annotations=ann,
    width=W, height=H,
    margin=dict(l=0, r=0, t=0, b=0),
    paper_bgcolor='white', plot_bgcolor='white',
    font=dict(family=SANS, size=FS, color='black'),
)

fig.write_html('out.html')
